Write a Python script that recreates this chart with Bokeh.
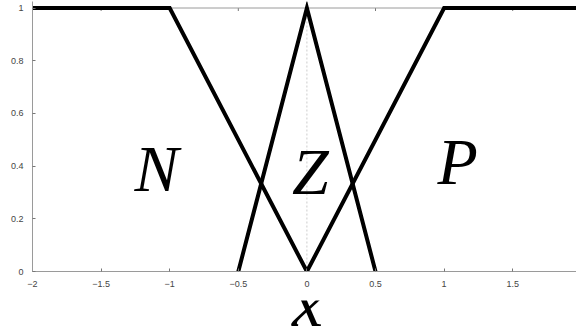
import math
from bokeh.plotting import figure
from bokeh.layouts import column
from bokeh.models import Range1d, Span, Label, LinearAxis, FixedTicker
from bokeh.embed import file_html
from bokeh.resources import INLINE

# Membership functions: negative, zero, positive
n_x = [-2.0, -1.0, 0.0]
n_y = [1.0, 1.0, 0.0]
z_x = [-0.5, 0.0, 0.5]
z_y = [0.0, 1.0, 0.0]
p_x = [0.0, 1.0, 2.0]
p_y = [0.0, 1.0, 1.0]

x_ticks = [-2, -1.5, -1, -0.5, 0, 0.5, 1, 1.5]
y_ticks = [0, 0.2, 0.4, 0.6, 0.8, 1]

SERIF = "Liberation Serif"
SANS = "Liberation Sans"

x_range = Range1d(-2, 1.965)

p = figure(width=576, height=300, output_backend="svg", toolbar_location=None,
           x_range=x_range, y_range=Range1d(0, 1.0247),
           x_axis_type=None, y_axis_type=None,
           min_border_left=32, min_border_right=0, min_border_top=1, min_border_bottom=29)
p.outline_line_color = None
p.xgrid.visible = False
p.ygrid.visible = False

def style(ax):
    ax.axis_line_color = "#9a9a9a"
    ax.axis_line_width = 1
    ax.major_tick_line_color = "#777777"
    ax.major_tick_in = 3
    ax.major_tick_out = 0
    ax.minor_tick_line_color = None
    ax.major_label_text_font = SANS
    ax.major_label_text_font_size = "9px"
    ax.major_label_text_color = "#444444"
    ax.major_label_standoff = 9

xa = LinearAxis(ticker=FixedTicker(ticks=x_ticks))
style(xa)
p.add_layout(xa, "below")

ya = LinearAxis(ticker=FixedTicker(ticks=y_ticks))
style(ya)
p.add_layout(ya, "left")

# top border of the box, with small inward ticks
top_y = y_ticks[-1]
p.add_layout(Span(location=top_y, dimension="width", line_color="#9a9a9a",
                  line_width=1, level="underlay"))
p.ray(x=x_ticks, y=[top_y] * len(x_ticks), length=3, length_units="screen",
      angle=-math.pi / 2, line_color="#777777", line_width=1, level="underlay")

# dashed guide at x = 0
p.add_layout(Span(location=0, dimension="height", line_color="#cccccc",
                  line_width=1, line_dash="2 2", level="underlay"))

for xs, ys in [(n_x, n_y), (z_x, z_y), (p_x, p_y)]:
    p.line(xs, ys, line_color="black", line_width=4, line_join="miter")

def tag(fig, txt, x, y, size="66px"):
    fig.add_layout(Label(x=x, y=y, text=txt, text_font=SERIF,
                         text_font_style="italic", text_font_size=size,
                         text_color="black", text_align="center",
                         text_baseline="alphabetic"))

tag(p, "N", -1.096, 0.391)
tag(p, "Z", 0.026, 0.379)
tag(p, "P", 1.098, 0.417)

# strip below the chart holding the x-axis title
q = figure(width=576, height=34, output_backend="svg", toolbar_location=None,
           x_range=x_range, y_range=Range1d(0, 34),
           x_axis_type=None, y_axis_type=None,
           min_border_left=32, min_border_right=0, min_border_top=0, min_border_bottom=0)
q.outline_line_color = None
q.xgrid.visible = False
q.ygrid.visible = False
tag(q, "x", 0.004, 32, size="70px")

layout = column(p, q, spacing=0)
open("out.html", "w").write(file_html(layout, INLINE))
